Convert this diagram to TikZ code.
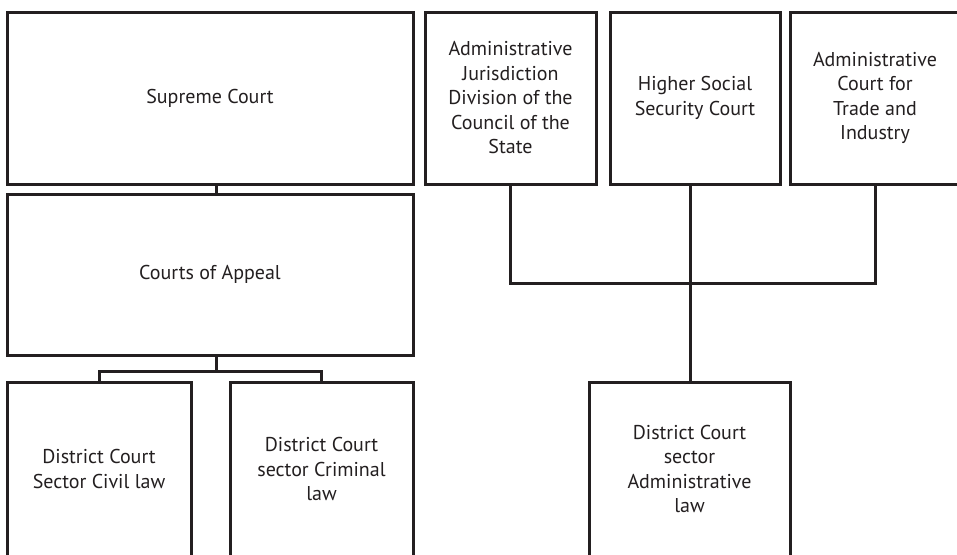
\documentclass[tikz,border=0pt]{standalone}
\usepackage{fontspec}
\setmainfont{PT Sans}
\definecolor{ink}{HTML}{231F20}
\begin{document}
\begin{tikzpicture}[x=1pt,y=-1pt,
  court/.style={draw=ink, line width=3pt, rectangle, align=center, inner sep=0pt,
    font=\fontsize{20}{24.5}\selectfont, text=ink},
  link/.style={draw=ink, line width=3pt}]
\clip (0,0) rectangle (957,554);
\fill[white] (0,0) rectangle (957,554);
% left column
\node[court, minimum width=406pt, minimum height=172pt] (sup) at (210,98) {Supreme Court};
\node[court, minimum width=406pt, minimum height=161pt] (app) at (210,274.5) {Courts of Appeal};
\node[court, minimum width=184pt, minimum height=174pt] (civ) at (99,469) {District Court\\Sector Civil law};
\node[court, minimum width=183pt, minimum height=174pt] (cri) at (321.5,469) {District Court\\sector Criminal\\law};
% right column
\node[court, minimum width=171pt, minimum height=172pt] (ajd) at (510.5,98) {Administrative\\Jurisdiction\\Division of the\\Council of the\\State};
\node[court, minimum width=170pt, minimum height=172pt] (hsc) at (695,98) {Higher Social\\Security Court};
\node[court, minimum width=170pt, minimum height=172pt] (act) at (875,98) {Administrative\\Court for\\Trade and\\Industry};
\node[court, minimum width=201pt, minimum height=174pt] (dca) at (689.5,469) {District Court\\sector\\Administrative\\law};
% connectors
\coordinate (split) at (216,371);
\draw[link] (sup.south -| split) -- (app.north -| split);
\draw[link] (app.south -| split) -- (split);
\draw[link] (civ.north) -- (civ.north |- split) -- (cri.north |- split) -- (cri.north);
\coordinate (join) at (690,283);
\draw[link] (ajd.south) -- (ajd.south |- join) -- (act.south |- join) -- (act.south);
\draw[link] (hsc.south -| join) -- (dca.north -| join);
\end{tikzpicture}
\end{document}
